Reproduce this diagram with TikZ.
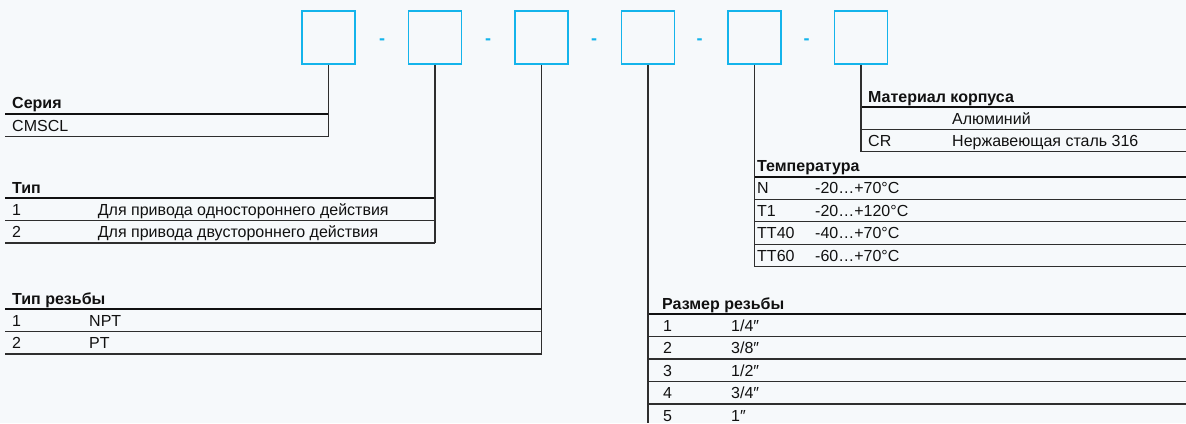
\documentclass[tikz,border=0pt]{standalone}
\usepackage{fontspec}
\setmainfont{Liberation Sans}
\usepackage{xcolor}
\usetikzlibrary{positioning,calc}
\definecolor{codeblue}{RGB}{20,180,235}
\definecolor{pagebg}{HTML}{F6F9FB}
\definecolor{ink}{HTML}{111111}
\definecolor{rulegray}{HTML}{2E2E2E}

\begin{document}
\begin{tikzpicture}[
  x=1pt, y=-1pt,
  codebox/.style={rectangle, draw=codeblue, line width=1.5pt, minimum width=53pt,
                  minimum height=53pt, inner sep=0pt},
  hyph/.style={anchor=base, inner sep=0pt, text=codeblue, font=\fontsize{18}{20}\selectfont\bfseries},
  headtext/.style={anchor=base west, inner sep=0pt, text=ink, font=\fontsize{16}{19}\selectfont\bfseries},
  celltext/.style={anchor=base west, inner sep=0pt, text=ink, font=\fontsize{16}{19}\selectfont},
  headrule/.style={draw=ink, line width=2.2pt},
  rowline/.style={draw=rulegray, line width=1.3pt},
  lead/.style={draw=rulegray, line width=1.5pt}
]

% Page
\fill[pagebg] (0,0) rectangle (1186,423);
\useasboundingbox (0,0) rectangle (1186,423);
\clip (0,0) rectangle (1186,423);

% Code boxes
\node[codebox] (series) at (328.5,37.5) {};
\node[codebox] (type) at (435,37.5) {};
\node[codebox] (thread) at (541.5,37.5) {};
\node[codebox] (size) at (648,37.5) {};
\node[codebox] (temp) at (754.5,37.5) {};
\node[codebox] (mat) at (861,37.5) {};

% Separators
\node[hyph] (d1) at (382,44.5) {-};
\node[hyph] (d2) at (488,44.5) {-};
\node[hyph] (d3) at (594,44.5) {-};
\node[hyph] (d4) at (699.5,44.5) {-};
\node[hyph] (d5) at (806.5,44.5) {-};

% Series
\coordinate (seriesEnd) at (328.5,136.7);
\node[headtext] (seriesHead) at (12,108.5) {Серия};
\draw[headrule] (5,113.7) -- (328.5,113.7);
\node[celltext] (seriesVal) at (12,131.2) {CMSCL};
\draw[rowline] (5,136.7) -- (seriesEnd);
\draw[lead] (series) -- (seriesEnd);

% Type
\coordinate (typeEnd) at (435,243);
\node[headtext] (typeHead) at (12,193.3) {Тип};
\draw[headrule] (5,198.3) -- (435,198.3);
\node[celltext] (typeA) at (12,215.4) {1};
\node[celltext] (typeAtxt) at (97.7,215.4) {Для привода одностороннего действия};
\draw[rowline] (5,220.7) -- (435,220.7);
\node[celltext] (typeB) at (12,237.7) {2};
\node[celltext] (typeBtxt) at (97.7,237.7) {Для привода двустороннего действия};
\draw[rowline] (5,243) -- (typeEnd);
\draw[lead] (type) -- (typeEnd);

% Thread type
\coordinate (threadEnd) at (541.5,354);
\node[headtext] (threadHead) at (12,304) {Тип резьбы};
\draw[headrule] (5,309) -- (541.5,309);
\node[celltext] (threadA) at (12,326.2) {1};
\node[celltext] (threadAtxt) at (89,326.2) {NPT};
\draw[rowline] (5,331.5) -- (541.5,331.5);
\node[celltext] (threadB) at (12,348.7) {2};
\node[celltext] (threadBtxt) at (89,348.7) {PT};
\draw[rowline] (5,354) -- (threadEnd);
\draw[lead] (thread) -- (threadEnd);

% Thread size
\coordinate (sizeEnd) at (648,423);
\node[headtext] (sizeHead) at (662,309) {Размер резьбы};
\draw[headrule] (648,314) -- (1186,314);
\node[celltext] (sizeA) at (663,331.4) {1};
\node[celltext] (sizeAtxt) at (731,331.4) {1/4″};
\draw[rowline] (648,336.7) -- (1186,336.7);
\node[celltext] (sizeB) at (663,353.7) {2};
\node[celltext] (sizeBtxt) at (731,353.7) {3/8″};
\draw[rowline] (648,359) -- (1186,359);
\node[celltext] (sizeC) at (663,376.2) {3};
\node[celltext] (sizeCtxt) at (731,376.2) {1/2″};
\draw[rowline] (648,381.5) -- (1186,381.5);
\node[celltext] (sizeD) at (663,398.7) {4};
\node[celltext] (sizeDtxt) at (731,398.7) {3/4″};
\draw[rowline] (648,404) -- (1186,404);
\node[celltext] (sizeE) at (663,421.2) {5};
\node[celltext] (sizeEtxt) at (731,421.2) {1″};
\draw[lead] (size) -- (sizeEnd);

% Temperature
\coordinate (tempEnd) at (754.5,266.7);
\node[headtext] (tempHead) at (757,171.7) {Температура};
\draw[headrule] (754.5,176.7) -- (1186,176.7);
\node[celltext] (tempA) at (757,193.9) {N};
\node[celltext] (tempAtxt) at (815,193.9) {-20…+70°C};
\draw[rowline] (754.5,199.2) -- (1186,199.2);
\node[celltext] (tempB) at (757,216.4) {T1};
\node[celltext] (tempBtxt) at (815,216.4) {-20…+120°C};
\draw[rowline] (754.5,221.7) -- (1186,221.7);
\node[celltext] (tempC) at (757,238.9) {TT40};
\node[celltext] (tempCtxt) at (815,238.9) {-40…+70°C};
\draw[rowline] (754.5,244.2) -- (1186,244.2);
\node[celltext] (tempD) at (757,261.4) {TT60};
\node[celltext] (tempDtxt) at (815,261.4) {-60…+70°C};
\draw[rowline] (754.5,266.7) -- (1186,266.7);
\draw[lead] (temp) -- (tempEnd);

% Body material
\coordinate (matEnd) at (861,151.7);
\node[headtext] (matHead) at (868,102.3) {Материал корпуса};
\draw[headrule] (861,107.3) -- (1186,107.3);
\node[celltext] (matAtxt) at (952,124.2) {Алюминий};
\draw[rowline] (861,129.5) -- (1186,129.5);
\node[celltext] (matB) at (868,146.4) {CR};
\node[celltext] (matBtxt) at (952,146.4) {Нержавеющая сталь 316};
\draw[rowline] (861,151.7) -- (1186,151.7);
\draw[lead] (mat) -- (matEnd);

\end{tikzpicture}
\end{document}
